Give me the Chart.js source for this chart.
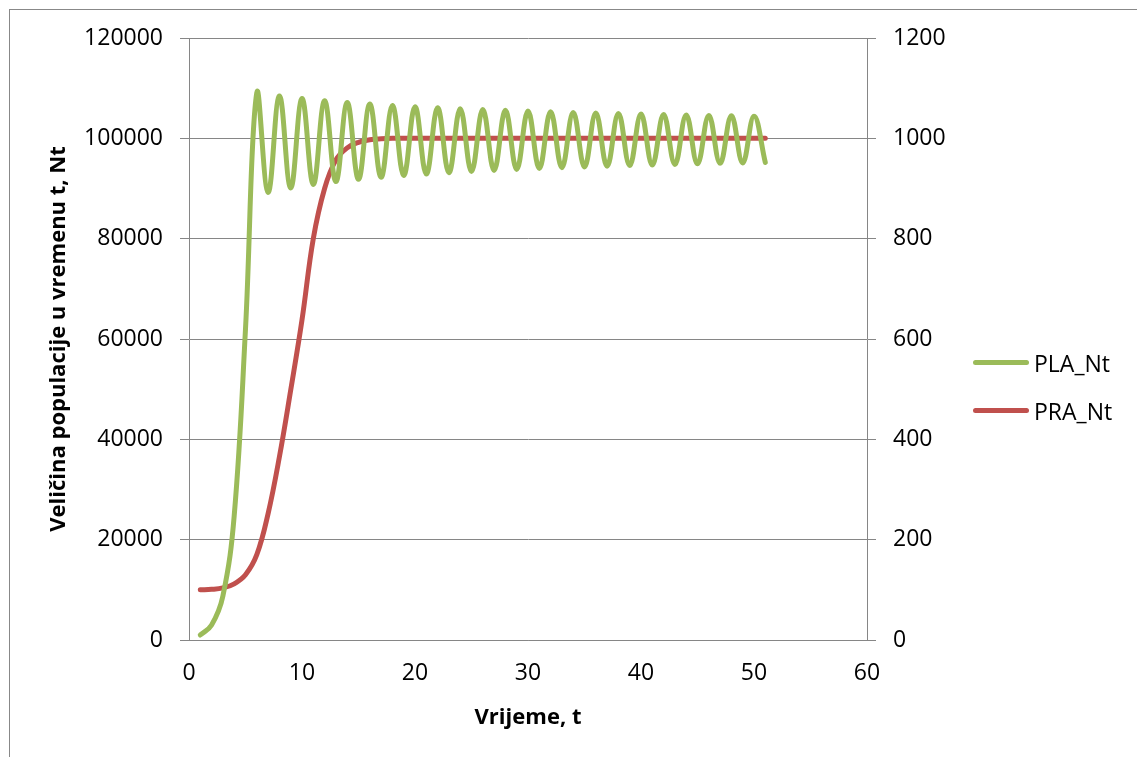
<!DOCTYPE html>
<html>
<head>
<meta charset="utf-8">
<script src="https://cdn.jsdelivr.net/npm/chart.js@4.4.0/dist/chart.umd.min.js"></script>
<style>
  html, body { margin: 0; padding: 0; background: #fff; overflow: hidden; }
  #wrap { position: relative; width: 1137px; height: 757px; }
  .leg { position: absolute; font-family: "Open Sans", sans-serif; font-size: 23px; color: #000; line-height: 30px; }
  .leg .ln { position: absolute; left: 0; top: 12px; width: 56px; height: 5px; border-radius: 3px; }
  .leg .tx { position: absolute; left: 61px; top: 0; white-space: nowrap; }
</style>
</head>
<body>
<div id="wrap">
  <canvas id="chart"></canvas>
  <div id="legend"></div>
</div>
<script>
// time steps
const tSteps = [1, 2, 3, 4, 5, 6, 7, 8, 9, 10, 11, 12, 13, 14, 15, 16, 17, 18, 19, 20,
  21, 22, 23, 24, 25, 26, 27, 28, 29, 30, 31, 32, 33, 34, 35, 36, 37, 38, 39, 40,
  41, 42, 43, 44, 45, 46, 47, 48, 49, 50, 51];

// PLA_Nt (left axis)
const plaNt = [1000, 2980, 8762, 24752, 62002, 109121, 89215, 108459, 90110, 107934,
  90808, 107502, 91372, 107139, 91841, 106827, 92240, 106555, 92585, 106315,
  92887, 106101, 93155, 105908, 93394, 105733, 93609, 105574, 93805, 105428,
  93983, 105293, 94147, 105168, 94298, 105052, 94438, 104943, 94568, 104842,
  94689, 104747, 94803, 104657, 94909, 104573, 95009, 104493, 95104, 104417, 95193];

// PRA_Nt (right axis)
const praNt = [100, 101, 104, 112, 130, 170, 252, 365, 498, 638, 800, 900, 957, 981, 992, 997, 999,
  1000, 1000, 1000, 1000, 1000, 1000, 1000, 1000, 1000, 1000, 1000, 1000, 1000, 1000,
  1000, 1000, 1000, 1000, 1000, 1000, 1000, 1000, 1000, 1000, 1000, 1000, 1000, 1000,
  1000, 1000, 1000, 1000, 1000, 1000];

const seriesNames = ["PLA_Nt", "PRA_Nt"];
const seriesColors = ["#9BBB59", "#C0504D"];

const xTitle = "Vrijeme, t";
const yTitle = "Veličina populacije u vremenu t, Nt";

const axisColor = "#868686";

Chart.defaults.font.family = '"Open Sans", sans-serif';
Chart.defaults.font.size = 23;
Chart.defaults.color = "#000";

const outerBorder = {
  id: "outerBorder",
  beforeDraw(chart) {
    const ctx = chart.ctx;
    ctx.save();
    ctx.strokeStyle = "#888";
    ctx.lineWidth = 1;
    ctx.strokeRect(9.5, 9.5, 1300, 900);
    ctx.restore();
  }
};

const toPoints = vals => vals.map((v, i) => ({ x: tSteps[i], y: v }));
const plainTick = v => String(v);

new Chart(document.getElementById("chart"), {
  type: "line",
  data: {
    datasets: [
      {
        label: seriesNames[0], data: toPoints(plaNt), yAxisID: "yL",
        borderColor: seriesColors[0], backgroundColor: seriesColors[0],
        borderWidth: 5, pointRadius: 0, tension: 0.4, borderCapStyle: "round", fill: false
      },
      {
        label: seriesNames[1], data: toPoints(praNt), yAxisID: "yR",
        borderColor: seriesColors[1], backgroundColor: seriesColors[1],
        borderWidth: 5, pointRadius: 0, tension: 0.4, borderCapStyle: "round", fill: false
      }
    ]
  },
  options: {
    responsive: true,
    maintainAspectRatio: false,
    animation: false,
    devicePixelRatio: 1,
    layout: { padding: { top: 38, left: 0, right: 0, bottom: 0 } },
    plugins: { legend: { display: false }, tooltip: { enabled: false } },
    scales: {
      x: {
        type: "linear", min: 0, max: 60,
        ticks: { stepSize: 10, padding: 20, callback: plainTick },
        grid: { display: false, drawTicks: false },
        border: { display: true, color: axisColor, width: 1 },
        title: { display: true, text: xTitle, font: { weight: "bold", size: 22 }, padding: { top: 0, bottom: 26 } },
        afterFit(scale) { scale.height = 117; }
      },
      yL: {
        type: "linear", position: "left", min: 0, max: 120000,
        ticks: { stepSize: 20000, padding: 17, callback: plainTick },
        grid: { color: axisColor, lineWidth: 1, tickLength: 9 },
        border: { display: true, color: axisColor, width: 1 },
        title: { display: true, text: yTitle, font: { weight: "bold", size: 22 }, padding: { top: 46, bottom: 0 } },
        afterFit(scale) { scale.width = 189; }
      },
      yR: {
        type: "linear", position: "right", min: 0, max: 1200,
        ticks: { stepSize: 200, padding: 17, callback: plainTick },
        grid: { drawOnChartArea: false, color: axisColor, lineWidth: 1, tickLength: 9 },
        border: { display: true, color: axisColor, width: 1 },
        afterFit(scale) { scale.width = 270; }
      }
    }
  },
  plugins: [outerBorder]
});

// legend as html
const legendTops = [348, 396];
document.getElementById("legend").innerHTML = seriesNames.map((name, i) => `
  <div class="leg" style="left:973px; top:${legendTops[i]}px;">
    <span class="ln" style="background:${seriesColors[i]}"></span>
    <span class="tx">${name}</span>
  </div>`).join("");
</script>
</body>
</html>
